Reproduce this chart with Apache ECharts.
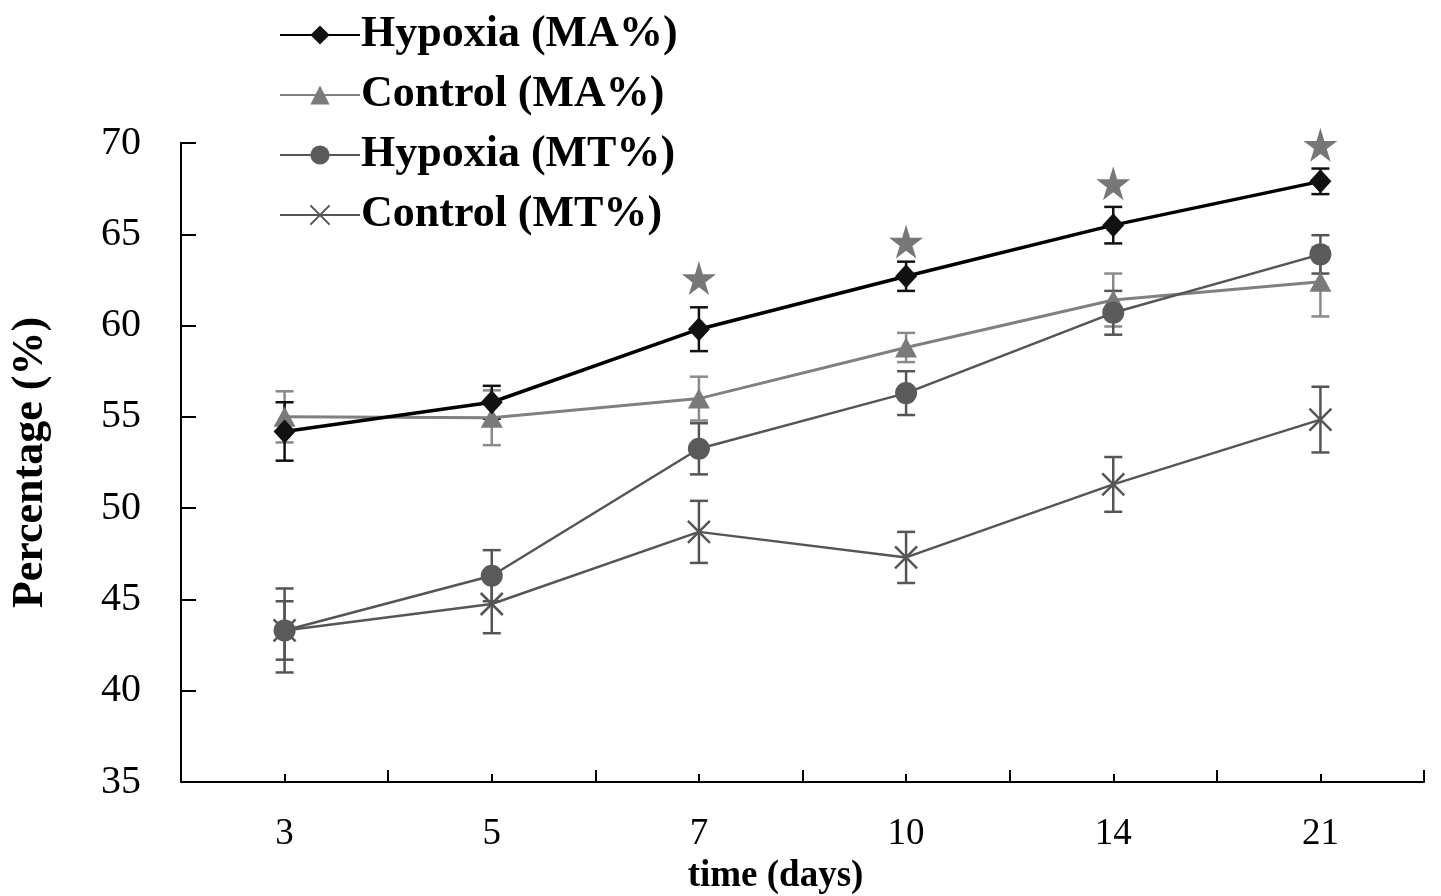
<!DOCTYPE html>
<html>
<head>
<meta charset="utf-8">
<script src="https://cdn.jsdelivr.net/npm/echarts@6/dist/echarts.min.js"></script>
<style>html,body{margin:0;padding:0;background:#fff}#c{width:1441px;height:896px}</style>
</head>
<body>
<div id="c"></div>
<script>
var days = ['3', '5', '7', '10', '14', '21'];
var hypoxiaMA = [54.2, 55.8, 59.8, 62.7, 65.5, 67.9];
var hypoxiaMAErr = [1.6, 0.9, 1.2, 0.8, 1.0, 0.7];
var controlMA = [55.0, 54.95, 56.0, 58.8, 61.4, 62.4];
var controlMAErr = [1.4, 1.5, 1.2, 0.8, 1.45, 1.9];
var hypoxiaMT = [43.3, 46.3, 53.25, 56.3, 60.7, 63.9];
var hypoxiaMTErr = [1.6, 1.4, 1.4, 1.2, 1.2, 1.05];
var controlMT = [43.3, 44.75, 48.7, 47.3, 51.3, 54.85];
var controlMTErr = [2.3, 1.6, 1.7, 1.4, 1.5, 1.8];
var stars = [null, null, 62.6, 64.6, 67.8, 69.9];
var yTicks = [35, 40, 45, 50, 55, 60, 65, 70];

var SERIF = '"Liberation Serif", "Times New Roman", serif';
var STAR = 'path://M50,0 L61,35 L98,35 L68,57 L79,91 L50,70 L21,91 L32,57 L2,35 L39,35 Z';
var XMARK = 'path://M0,0 L10,10 M10,0 L0,10';

function errSeries(vals, errs, color, z) {
  var data = vals.map(function (v, i) { return [i, v - errs[i], v + errs[i]]; });
  return {
    type: 'custom', z: z, silent: true,
    data: data,
    encode: { x: 0, y: [1, 2] },
    renderItem: function (params, api) {
      var lo = api.coord([api.value(0), api.value(1)]);
      var hi = api.coord([api.value(0), api.value(2)]);
      var w = 9;
      var st = { stroke: color, lineWidth: 2.5 };
      return { type: 'group', children: [
        { type: 'line', shape: { x1: lo[0], y1: lo[1], x2: hi[0], y2: hi[1] }, style: st },
        { type: 'line', shape: { x1: lo[0] - w, y1: lo[1], x2: lo[0] + w, y2: lo[1] }, style: st },
        { type: 'line', shape: { x1: hi[0] - w, y1: hi[1], x2: hi[0] + w, y2: hi[1] }, style: st }
      ]};
    }
  };
}

var chart = echarts.init(document.getElementById('c'));
chart.setOption({
  animation: false,
  backgroundColor: '#fff',
  grid: { left: 181, right: 17, top: 143, bottom: 114, containLabel: false, outerBoundsMode: 'none' },
  legend: {
    orient: 'vertical', left: 274, top: 6,
    itemWidth: 80, itemHeight: 24, itemGap: 12,
    data: ['Hypoxia (MA%)', 'Control (MA%)', 'Hypoxia (MT%)', 'Control (MT%)'],
    textStyle: { fontFamily: SERIF, fontWeight: 'bold', fontSize: 44, color: '#000', lineHeight: 48, padding: [0, 0, 0, -4] }
  },
  xAxis: [{
    type: 'category', data: days, boundaryGap: true,
    axisLine: { show: true, lineStyle: { color: '#000', width: 2 } },
    axisTick: { show: true, inside: true, length: 12, interval: 0, lineStyle: { color: '#000', width: 2 } },
    axisLabel: { fontFamily: SERIF, fontSize: 37, color: '#000', margin: 34 },
    name: 'time (days)', nameLocation: 'middle', nameGap: 74,
    nameTextStyle: { fontFamily: SERIF, fontWeight: 'bold', fontSize: 37, color: '#000', padding: [0, 54, 0, 0] }
  }, {
    type: 'category', data: days, boundaryGap: true, position: 'bottom',
    axisLine: { show: false },
    axisTick: { show: true, inside: true, length: 8, alignWithLabel: true, interval: 0, lineStyle: { color: '#000', width: 2 } },
    axisLabel: { show: false }
  }],
  yAxis: {
    type: 'value', min: 35, max: 70, interval: 5,
    axisLine: { show: true, lineStyle: { color: '#000', width: 2 } },
    axisTick: { show: true, inside: true, length: 15, lineStyle: { color: '#000', width: 2 } },
    splitLine: { show: false },
    axisLabel: { fontFamily: SERIF, fontSize: 40, color: '#000', margin: 40 },
    name: 'Percentage (%)', nameLocation: 'middle', nameGap: 128,
    nameTextStyle: { fontFamily: SERIF, fontWeight: 'bold', fontSize: 44, color: '#000' }
  },
  series: [
    errSeries(controlMA, controlMAErr, '#8a8a8a', 2),
    errSeries(controlMT, controlMTErr, '#555', 2),
    errSeries(hypoxiaMT, hypoxiaMTErr, '#555', 2),
    errSeries(hypoxiaMA, hypoxiaMAErr, '#111', 2),
    {
      name: 'Control (MA%)', type: 'line', data: controlMA, z: 3,
      symbol: 'triangle', symbolSize: [22, 20],
      lineStyle: { color: '#808080', width: 3 },
      itemStyle: { color: '#7a7a7a' }
    },
    {
      name: 'Control (MT%)', type: 'line', data: controlMT, z: 3,
      symbol: XMARK, symbolSize: 22,
      lineStyle: { color: '#555', width: 2.5 },
      itemStyle: { color: 'none', borderColor: '#555', borderWidth: 2.5 }
    },
    {
      name: 'Hypoxia (MT%)', type: 'line', data: hypoxiaMT, z: 4,
      symbol: 'circle', symbolSize: 22,
      lineStyle: { color: '#555', width: 2.5 },
      itemStyle: { color: '#5a5a5a' }
    },
    {
      name: 'Hypoxia (MA%)', type: 'line', data: hypoxiaMA, z: 5,
      symbol: 'diamond', symbolSize: [22, 24],
      lineStyle: { color: '#000', width: 3.5 },
      itemStyle: { color: '#111' }
    },
    {
      type: 'scatter', data: stars, symbol: STAR, symbolSize: 34, z: 5,
      itemStyle: { color: '#555' }
    }
  ]
});
</script>
</body>
</html>
